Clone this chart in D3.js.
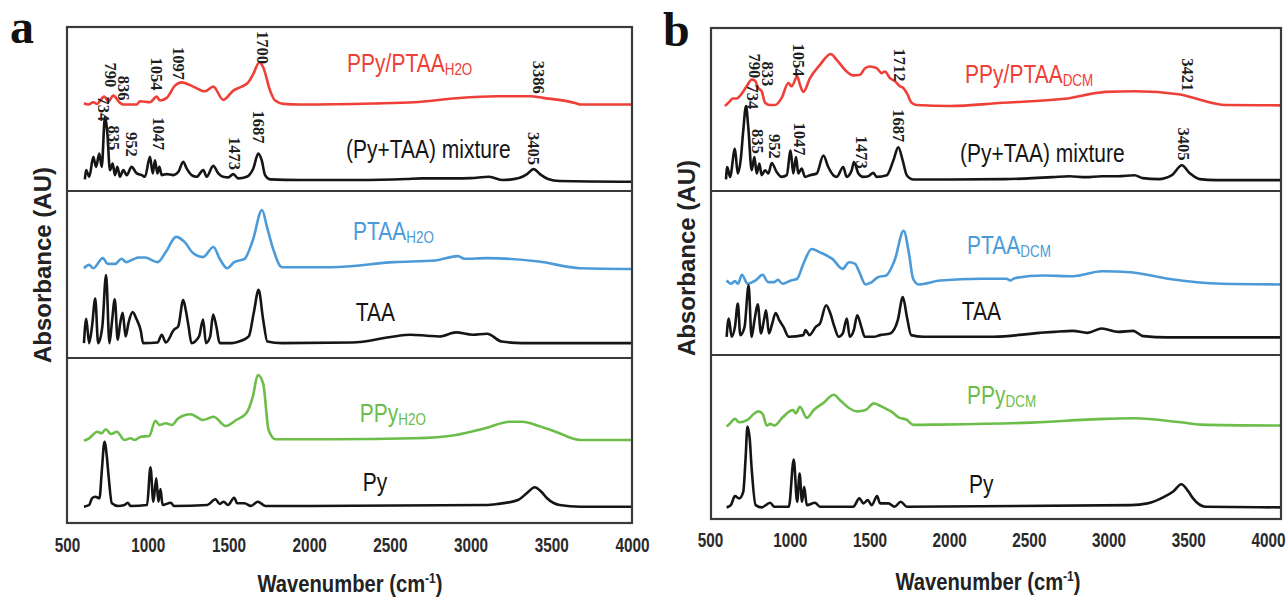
<!DOCTYPE html>
<html><head><meta charset="utf-8">
<script src="https://cdn.jsdelivr.net/npm/d3@7/dist/d3.min.js"></script>
<style>body{margin:0;background:#fff}svg{display:block}</style>
</head><body>
<svg id="c" width="1287" height="597"></svg>
<script>
// ---------------- data (wavenumber cm-1, absorbance AU) ----------------
const wnTicks = [500, 1000, 1500, 2000, 2500, 3000, 3500, 4000];

// panel a, top: PPy/PTAA(H2O) and (Py+TAA) mixture
const a_PPyPTAA = [[605,88.3],[632,87],[663,89.3],[684,87.7],[731,95],[756,90],[787,96],[824,89.3],[849,87],[932,87],[952,90.3],[1014,89.3],[1056,95],[1076,91],[1118,93.7],[1169,106],[1210,109.3],[1282,105],[1355,100.3],[1406,105],[1468,91.7],[1530,101],[1582,105],[1623,109.3],[1654,117.7],[1691,129.3],[1716,124.3],[1758,101],[1789,91],[1840,87.7],[1943,87],[2396,88],[2653,89.3],[2910,93.3],[3165,95.3],[3372,95.3],[3449,93.7],[3653,88.3],[3680,87],[4000,87]];
const a_PyTAA = [[611,11.7],[618,21],[638,14.3],[663,34.3],[680,24.3],[700,37.7],[715,24.3],[735,74.3],[750,57.7],[766,21],[783,27.7],[797,16],[812,24.3],[828,14.3],[849,21],[870,16],[900,24.3],[932,17.7],[963,16],[983,14.3],[1014,34.3],[1031,17.7],[1045,31],[1060,17.7],[1072,24.3],[1087,16],[1118,17],[1159,16],[1190,19.3],[1220,29.3],[1241,22.7],[1272,16],[1303,14.3],[1344,21],[1365,14.3],[1406,25.3],[1437,17.7],[1468,14.3],[1499,13.7],[1530,17],[1561,12.7],[1613,14.3],[1654,22.7],[1685,37.7],[1706,31],[1727,16],[1758,11.7],[1943,11],[2300,11],[2600,12],[2700,12.7],[2900,12.7],[3000,13],[3115,14.3],[3200,11],[3300,13],[3350,17],[3390,22],[3430,17],[3480,12],[3550,10],[4000,9.3]];
// panel a, middle: PTAA(H2O) and TAA
const a_PTAA = [[605,88.7],[637,92],[663,88.7],[722,98.7],[752,93],[799,93],[837,98],[868,94.7],[906,97.3],[945,99.3],[983,99.3],[1061,94.7],[1112,104.7],[1176,119.7],[1228,114.7],[1279,104],[1343,99.7],[1407,109.7],[1446,98],[1492,88.7],[1536,94.7],[1600,98],[1651,116.3],[1708,146.3],[1741,128],[1780,106.3],[1831,89.7],[2139,89.7],[2525,94.7],[2780,96.3],[2923,100.7],[2961,98],[3102,98.7],[3423,95.3],[3680,88.7],[4000,88]];
const a_TAA = [[605,14.7],[619,38.7],[637,14.7],[655,31.3],[675,58.7],[693,14.7],[719,31.3],[742,82],[763,14.7],[778,34.7],[796,58],[814,18],[830,34.7],[845,44.7],[863,21.3],[881,34.7],[906,45.3],[932,38],[958,26.3],[971,14.7],[1061,15.3],[1087,23],[1112,15.3],[1163,28],[1189,31.3],[1220,57.3],[1235,48],[1253,31.3],[1271,14.7],[1318,21.3],[1343,38],[1361,14.7],[1387,21.3],[1405,43],[1425,31.3],[1446,14.7],[1522,14.7],[1561,16],[1626,21.3],[1657,44.7],[1687,67.3],[1715,38],[1741,16.3],[1831,14.7],[2267,15.3],[2525,21.3],[2627,23],[2730,22],[2807,21.3],[2910,25.3],[3012,23],[3102,24],[3192,16.3],[3321,14.7],[4000,14.7]];
// panel a, bottom: PPy(H2O) and Py
const a_PPy = [[605,82.3],[637,84.7],[688,91.3],[714,89.7],[740,93.7],[773,89],[809,91.3],[856,83],[894,84.7],[919,83],[958,86.3],[1009,87],[1048,102.3],[1073,98],[1112,99.7],[1150,98],[1189,104.7],[1266,108.7],[1343,103],[1407,106.3],[1484,97],[1548,103],[1613,110.3],[1651,126.3],[1682,148],[1715,139.7],[1749,93],[1792,83.7],[2139,83.7],[2653,84.7],[2910,88],[3090,94.7],[3243,101.3],[3321,101.3],[3423,97],[3526,91.3],[3680,83],[4000,83]];
const a_Py = [[605,16.3],[637,18],[655,24.7],[675,26.3],[701,24.7],[716,53],[732,81.3],[747,66],[758,46.3],[778,19.7],[817,17],[856,18],[876,20.3],[894,17],[996,18],[1017,55.7],[1035,21.3],[1053,44.7],[1066,21.3],[1079,34],[1092,18],[1143,20.3],[1163,17],[1369,18],[1420,23.7],[1446,19],[1471,21.3],[1497,18],[1536,25.3],[1554,19.7],[1600,19.7],[1639,17],[1682,21.3],[1728,17],[3090,18],[3166,19],[3294,23],[3350,30],[3397,35.7],[3440,31],[3474,24.7],[3551,18],[3680,16.3],[4000,16.3]];

// panel b, top: PPy/PTAA(DCM) and (Py+TAA) mixture
const b_PPyPTAA = [[586,86],[617,91],[633,93.7],[658,93.7],[688,98.3],[719,106],[750,112.7],[770,111.7],[790,104.3],[811,101],[832,89.3],[862,87],[893,87],[934,94.3],[975,109.3],[995,106],[1030,116],[1046,107.7],[1067,100.3],[1108,114.3],[1169,127.7],[1235,138.7],[1272,132.7],[1333,121],[1374,117],[1415,117.7],[1446,124.3],[1476,126],[1517,124.3],[1548,119.3],[1568,121],[1599,114.3],[1630,111],[1660,106],[1681,104.3],[1702,99.3],[1732,89.3],[1763,87],[1968,86],[2289,89.3],[2670,93.3],[2925,100.3],[3103,101],[3383,97.7],[3460,94.3],[3662,87],[4000,86.7]];
const b_PyTAA = [[592,11.7],[600,24.3],[617,14.3],[647,42.7],[664,17.7],[682,31],[698,61],[715,86],[729,64.3],[750,21],[766,34.3],[781,17.7],[797,27.7],[811,16],[832,21],[852,17.7],[873,28.3],[903,19.3],[934,14.3],[965,16],[989,41],[1005,17.7],[1022,34.3],[1036,17.7],[1057,22.7],[1077,14.3],[1108,16],[1149,17.7],[1190,36],[1220,24.3],[1251,16],[1272,14.3],[1312,24.3],[1333,14.3],[1364,21],[1378,29.3],[1405,17.7],[1435,14.3],[1466,15],[1497,18.3],[1517,14.3],[1579,16],[1620,31],[1650,44.3],[1677,31],[1702,16],[1743,11.7],[1968,11.7],[2300,12],[2600,14],[2700,15],[2800,14],[2900,15],[3000,15],[3100,16],[3150,13],[3250,12],[3330,16],[3391,26],[3440,18],[3500,12],[3600,11],[4000,11]];
// panel b, middle: PTAA(DCM) and TAA
const b_PTAA = [[596,75],[622,71.7],[647,74.3],[665,71.7],[690,80.7],[724,71.7],[774,75],[817,80.7],[851,73.3],[889,73.3],[910,75.7],[940,71.7],[991,75],[1029,76.7],[1067,91.7],[1118,106.7],[1169,103.3],[1245,96.7],[1309,86.7],[1347,93.3],[1385,91.7],[1411,83.3],[1449,71],[1487,73.3],[1525,78.3],[1576,80],[1627,95],[1683,125],[1716,101.7],[1741,76.7],[1775,71],[1906,75],[2161,76.7],[2314,76.7],[2339,75],[2365,77.3],[2543,80],[2721,79.3],[2900,84.3],[3078,83.3],[3306,76.7],[3637,71.7],[4000,71]];
const b_TAA = [[596,18.3],[609,36.7],[627,18.3],[647,28.3],[665,51.7],[680,20],[706,28.3],[731,70],[749,18.3],[767,35],[787,51],[807,21.7],[825,35],[838,45],[856,21.7],[876,31.7],[897,42.3],[919,35],[945,28.3],[978,18.3],[1067,20],[1080,25],[1105,20],[1143,28.3],[1169,31.7],[1207,50],[1233,41.7],[1258,28.3],[1284,18.3],[1309,21.7],[1334,36.7],[1352,18.3],[1377,25],[1398,40],[1423,28.3],[1444,18.3],[1500,18.3],[1538,20],[1601,21.7],[1647,35],[1678,58.3],[1703,38.3],[1729,20],[1805,18.3],[2237,18.3],[2518,22.3],[2607,23.3],[2721,24.3],[2811,22.3],[2900,26.7],[3001,23.3],[3091,24.3],[3154,19],[3307,17.7],[4000,17.7]];
// panel b, bottom: PPy(DCM) and Py
const b_PPy = [[596,93],[614,95.7],[647,100.7],[673,97.3],[724,99.7],[762,105.7],[792,108.3],[817,105.7],[843,94],[863,95.7],[889,94],[940,102.3],[1003,109.7],[1021,106.3],[1046,113],[1088,101.7],[1131,109.7],[1194,117.3],[1253,125],[1296,119],[1347,111.7],[1398,108.3],[1449,109.7],[1500,116.3],[1538,114],[1576,110.7],[1614,107.3],[1652,102.3],[1703,99.7],[1741,94.7],[1906,95],[2416,96.7],[2925,100.7],[3103,101.3],[3383,97.3],[3510,95],[4000,94]];
const b_Py = [[596,11.7],[622,14],[647,23],[673,20.7],[698,27.3],[712,60],[724,93],[738,80],[749,52.3],[774,14],[812,11.7],[863,16.3],[889,12.3],[978,12.3],[1008,59.7],[1029,17.3],[1044,45.7],[1059,17.3],[1072,32.3],[1088,14],[1139,16.3],[1169,12.3],[1373,12.3],[1411,20.7],[1436,15.7],[1462,19],[1487,14],[1520,23],[1538,15.7],[1589,15.7],[1627,12.3],[1665,17.3],[1703,12.3],[3078,14],[3180,15.7],[3282,22.3],[3340,28],[3388,35],[3430,28],[3460,20.7],[3536,12.3],[4000,11.7]];

// series names: [main, subscript]
const a_names = [["PPy/PTAA","H2O"],["(Py+TAA) mixture",""],["PTAA","H2O"],["TAA",""],["PPy","H2O"],["Py",""]];
const b_names = [["PPy/PTAA","DCM"],["(Py+TAA) mixture",""],["PTAA","DCM"],["TAA",""],["PPy","DCM"],["Py",""]];
// name anchors [wavenumber, absorbance of baseline]
const a_nameAt = [[2235,120],[2228,33],[2272,116.3],[2288,36.3],[2314,101.3],[2332,32]];
const b_nameAt = [[2060,109],[2029,29.3],[2072,101.7],[2039,35],[2072,115.7],[2084,25.7]];

// peak annotations (top sub-panel): [label, wavenumber, absorbance at text top]
const a_peaks = [["790",771,129.3],["836",853,116],["1054",1056,134.3],["1097",1190,145],["1700",1710,161],["3386",3424,131],
                 ["734",725,95],["835",787,66],["952",901,59.3],["1047",1066,74.3],["1473",1541,54.3],["1687",1688,81],["3405",3393,59.3]];
const b_peaks = [["790",770,139.3],["833",846,131],["1054",1038,149.3],["1712",1660,144.3],["3421",3429,134.3],
                 ["734",754,107.7],["835",790,62.7],["952",889,57.7],["1047",1048,69.3],["1473",1423,56],["1687",1652,82.7],["3405",3404,64.3]];

// ---------------- drawing ----------------
const RED = "#ee4038", BLUE = "#4c9bd8", GREEN = "#6cbd49", BLACK = "#151515";
const svg = d3.select("#c");
const SANS = "'Liberation Sans', Arial, sans-serif";
const SERIF = "'Liberation Serif', 'Times New Roman', serif";

const panels = [
  {letter:"a", lx:10, ly:43, left:67, right:632, axisRange:[67,632], bounds:[27,191,358,523], pad:14, titleX:350, titleY:592, yTitleX:43, yTitleY:265,
   series:[a_PPyPTAA,a_PyTAA,a_PTAA,a_TAA,a_PPy,a_Py], names:a_names, nameAt:a_nameAt, peaks:a_peaks},
  {letter:"b", lx:663, ly:46, left:711, right:1281, axisRange:[710,1268], bounds:[28,191,355,519], pad:13, titleX:988, titleY:590, yTitleX:687, yTitleY:258,
   series:[b_PPyPTAA,b_PyTAA,b_PTAA,b_TAA,b_PPy,b_Py], names:b_names, nameAt:b_nameAt, peaks:b_peaks}
];
const colors = [RED, BLACK, BLUE, BLACK, GREEN, BLACK];

panels.forEach(p => {
  const g = svg.append("g");
  const x = d3.scaleLinear().domain([500, 4000]).range([p.left, p.right]);
  const xAxisScale = d3.scaleLinear().domain([500, 4000]).range(p.axisRange);
  const ys = [0,1,2].map(i => d3.scaleLinear().domain([0, 165]).range([p.bounds[i+1], p.bounds[i]]));

  p.series.forEach((s, k) => {
    const y = ys[Math.floor(k/2)];
    const line = d3.line().x(d => x(d[0])).y(d => y(d[1])).curve(d3.curveMonotoneX);
    g.append("path").attr("d", line(s)).attr("fill","none")
      .attr("stroke", colors[k]).attr("stroke-width", 2.6).attr("stroke-linejoin","round");
  });

  // series names
  p.names.forEach((n, k) => {
    const y = ys[Math.floor(k/2)];
    const t = g.append("text")
      .attr("transform", `translate(${x(p.nameAt[k][0])},${y(p.nameAt[k][1])}) scale(0.84,1)`)
      .attr("font-family", SANS).attr("font-size", 25).attr("fill", colors[k]);
    t.append("tspan").text(n[0]);
    if (n[1]) t.append("tspan").attr("font-size", 16).attr("dy", 3).text(n[1]);
  });

  // peak labels
  p.peaks.forEach(pk => {
    g.append("text")
      .attr("transform", `translate(${x(pk[1])},${ys[0](pk[2])}) rotate(90)`)
      .attr("dy", "0.35em")
      .attr("font-family", SERIF).attr("font-weight", "bold").attr("font-size", 16.5)
      .attr("fill", "#1e1e1e").text(pk[0]);
  });

  // frame and dividers
  const top = p.bounds[0], bot = p.bounds[3];
  g.append("rect").attr("x", p.left).attr("y", top).attr("width", p.right - p.left).attr("height", bot - top)
    .attr("fill","none").attr("stroke","#3a3a3a").attr("stroke-width", 2.2);
  [p.bounds[1], p.bounds[2]].forEach(yy => {
    g.append("line").attr("x1", p.left).attr("x2", p.right).attr("y1", yy).attr("y2", yy)
      .attr("stroke","#3a3a3a").attr("stroke-width", 2.2);
  });

  // x axis (tick labels only, as in the reference)
  const ax = g.append("g").attr("transform", `translate(0,${bot})`)
    .call(d3.axisBottom(xAxisScale).tickValues(wnTicks).tickSize(0).tickPadding(p.pad).tickFormat(d3.format("d")));
  ax.select(".domain").remove();
  ax.selectAll("text").attr("font-family", SANS).attr("font-weight","bold").attr("font-size", 21)
    .attr("fill","#2a2a2a").attr("transform", "scale(0.73,1)");

  // x title
  const xt = g.append("text").attr("transform", `translate(${p.titleX},${p.titleY}) scale(0.86,1)`)
    .attr("text-anchor","middle").attr("font-family", SANS).attr("font-weight","bold").attr("font-size", 23.5).attr("fill","#222");
  xt.append("tspan").text("Wavenumber (cm");
  xt.append("tspan").attr("font-size", 14).attr("dy", -9).text("-1");
  xt.append("tspan").attr("dy", 9).text(")");

  // y title
  g.append("text").attr("transform", `translate(${p.yTitleX},${p.yTitleY}) rotate(-90)`)
    .attr("text-anchor","middle").attr("dy","0.35em")
    .attr("font-family", SANS).attr("font-weight","bold").attr("font-size", 24).attr("fill","#222")
    .text("Absorbance (AU)");

  // panel letter
  g.append("text").attr("x", p.lx).attr("y", p.ly).attr("font-family", SERIF).attr("font-weight","bold")
    .attr("font-size", 48).attr("fill","#111").text(p.letter);
});
</script>
</body></html>
